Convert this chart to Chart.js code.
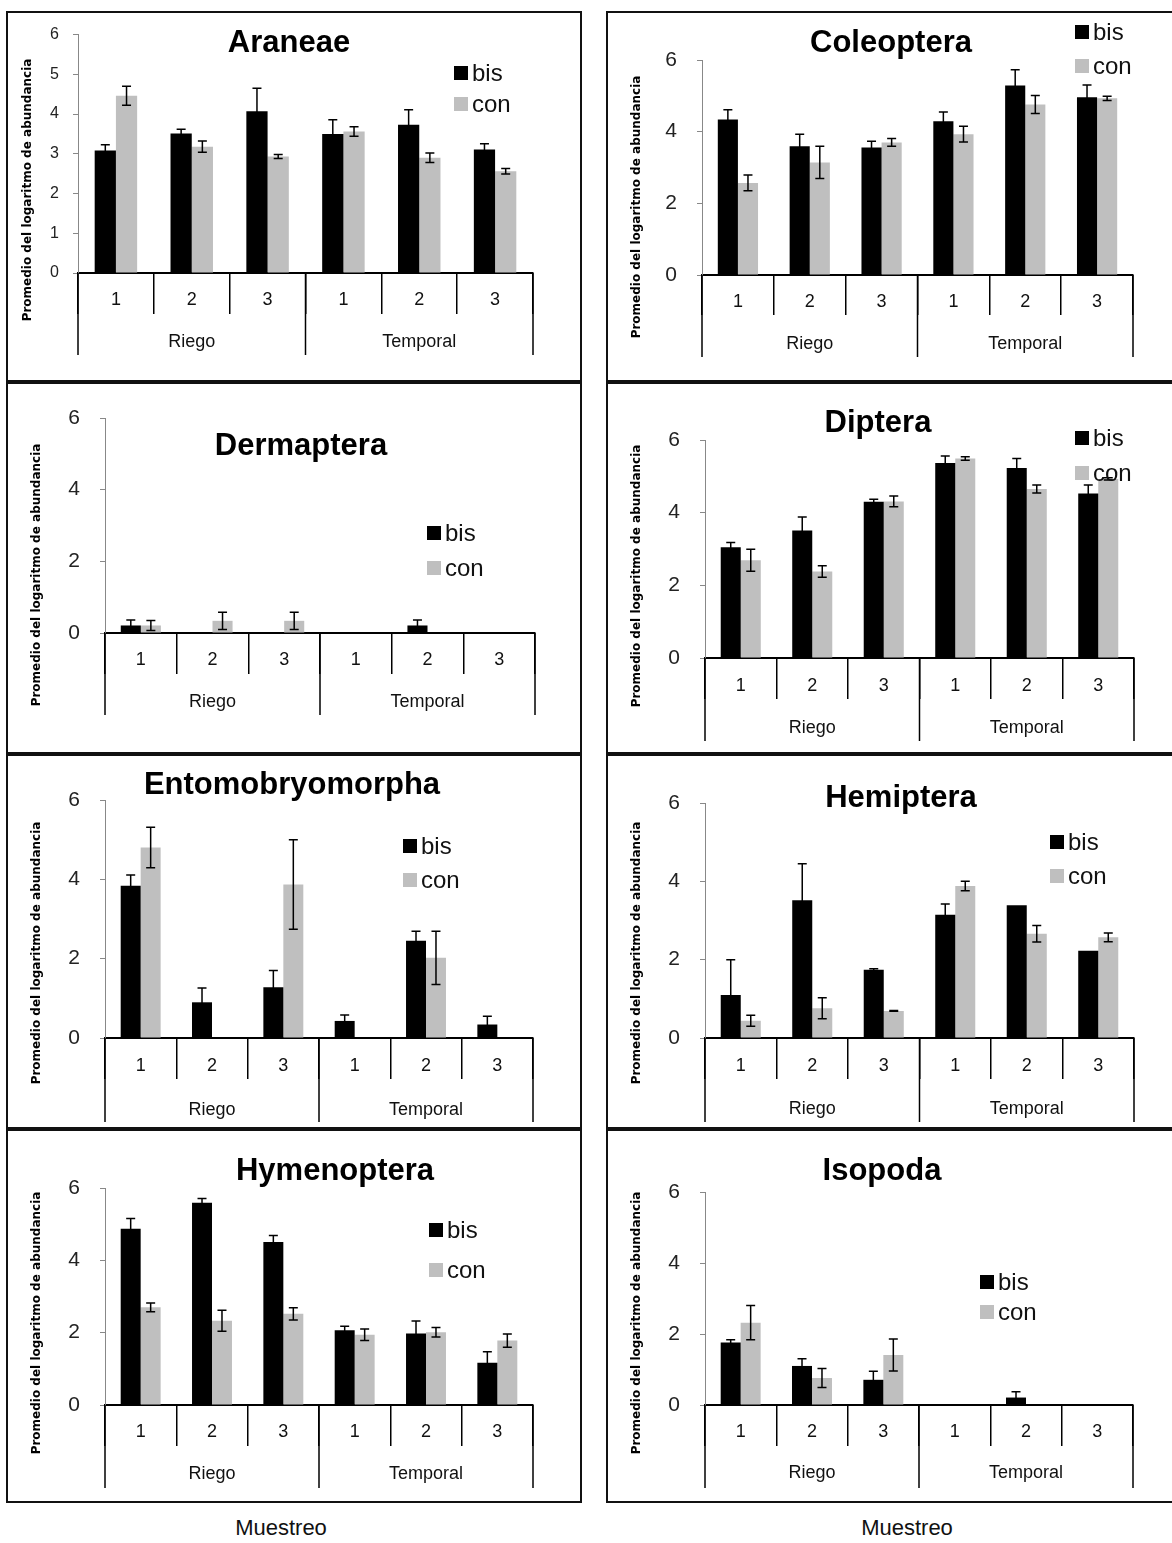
<!DOCTYPE html>
<html>
<head>
<meta charset="utf-8">
<script src="https://cdn.jsdelivr.net/npm/chart.js@4.4.1/dist/chart.umd.min.js"></script>
<style>
    html, body { margin: 0; padding: 0; background: #fff; }
    body { width: 1172px; height: 1543px; position: relative; overflow: hidden; }
    .panel { position: absolute; box-sizing: border-box; border: 2px solid #111; }
    canvas { position: absolute; }
    .axis-name {
        position: absolute;
        font: 22px 'Liberation Sans', Arial, sans-serif;
        color: #111;
        transform: translate(-50%, -50%);
        white-space: nowrap;
    }
</style>
</head>
<body>
<div class="axis-name" style="left:281px; top:1528px;">Muestreo</div>
<div class="axis-name" style="left:907px; top:1528px;">Muestreo</div>
<script>
// x axis: sample number inside each regime
const samples = ['1', '2', '3', '1', '2', '3'];
const groups = ['Riego', 'Temporal'];
const treatments = ['bis', 'con'];
const yTitle = 'Promedio del logaritmo de abundancia';

// mean log abundance and error, per order
const araneaeBis = [3.08, 3.51, 4.07, 3.50, 3.73, 3.11];
const araneaeBisErr = [0.15, 0.11, 0.58, 0.36, 0.38, 0.14];
const araneaeCon = [4.46, 3.18, 2.93, 3.56, 2.90, 2.56];
const araneaeConErr = [0.24, 0.14, 0.05, 0.12, 0.12, 0.07];

const coleopteraBis = [4.34, 3.59, 3.56, 4.29, 5.29, 4.96];
const coleopteraBisErr = [0.27, 0.34, 0.17, 0.26, 0.44, 0.34];
const coleopteraCon = [2.57, 3.14, 3.70, 3.93, 4.76, 4.93];
const coleopteraConErr = [0.22, 0.45, 0.11, 0.22, 0.25, 0.06];

const dermapteraBis = [0.21, 0, 0, 0, 0.21, 0];
const dermapteraBisErr = [0.15, 0, 0, 0, 0.15, 0];
const dermapteraCon = [0.21, 0.34, 0.34, 0, 0, 0];
const dermapteraConErr = [0.14, 0.24, 0.24, 0, 0, 0];

const dipteraBis = [3.05, 3.51, 4.30, 5.37, 5.23, 4.53];
const dipteraBisErr = [0.13, 0.37, 0.07, 0.19, 0.26, 0.23];
const dipteraCon = [2.69, 2.38, 4.31, 5.49, 4.65, 4.93];
const dipteraConErr = [0.30, 0.16, 0.15, 0.05, 0.11, 0.03];

const entomoBis = [3.84, 0.90, 1.28, 0.43, 2.45, 0.34];
const entomoBisErr = [0.27, 0.36, 0.42, 0.15, 0.24, 0.21];
const entomoCon = [4.80, 0, 3.87, 0, 2.02, 0];
const entomoConErr = [0.51, 0, 1.13, 0, 0.67, 0];

const hemipteraBis = [1.10, 3.52, 1.74, 3.15, 3.39, 2.23];
const hemipteraBisErr = [0.90, 0.93, 0.03, 0.27, 0, 0];
const hemipteraCon = [0.44, 0.76, 0.69, 3.88, 2.66, 2.57];
const hemipteraConErr = [0.14, 0.27, 0.01, 0.12, 0.21, 0.11];

const hymenopteraBis = [4.87, 5.59, 4.51, 2.07, 1.98, 1.17];
const hymenopteraBisErr = [0.29, 0.12, 0.18, 0.11, 0.34, 0.30];
const hymenopteraCon = [2.70, 2.33, 2.52, 1.94, 2.01, 1.78];
const hymenopteraConErr = [0.12, 0.29, 0.17, 0.16, 0.13, 0.18];

const isopodaBis = [1.76, 1.10, 0.71, 0, 0.21, 0];
const isopodaBisErr = [0.08, 0.20, 0.24, 0, 0.16, 0];
const isopodaCon = [2.32, 0.76, 1.41, 0, 0, 0];
const isopodaConErr = [0.48, 0.27, 0.45, 0, 0, 0];

const FONT = "'Liberation Sans', Arial, sans-serif";
const BIS_COLOR = '#000000';
const CON_COLOR = '#bfbfbf';

// page positions of every panel (box = left, top, right, bottom)
const panels = [
    { title: 'Araneae', bis: araneaeBis, bisErr: araneaeBisErr, con: araneaeCon, conErr: araneaeConErr,
      box: [6, 11, 582, 382], axisX: 78, axisEnd: 533, y0: 273, y6: 33, step: 1, tickSize: 16, tickPad: 14,
      titlePos: [289, 43], legend: [454, 73, 104], yTitlePos: [28, 190], catY: 300, groupY: 342, sepBottom: 314, groupBottom: 355 },
    { title: 'Coleoptera', bis: coleopteraBis, bisErr: coleopteraBisErr, con: coleopteraCon, conErr: coleopteraConErr,
      box: [606, 11, 1180, 382], axisX: 702, axisEnd: 1133, y0: 275, y6: 60, step: 2, tickSize: 21, tickPad: 20,
      titlePos: [891, 43], legend: [1075, 32, 66], yTitlePos: [637, 207], catY: 302, groupY: 344, sepBottom: 315, groupBottom: 357 },
    { title: 'Dermaptera', bis: dermapteraBis, bisErr: dermapteraBisErr, con: dermapteraCon, conErr: dermapteraConErr,
      box: [6, 382, 582, 754], axisX: 105, axisEnd: 535, y0: 633, y6: 418, step: 2, tickSize: 21, tickPad: 20,
      titlePos: [301, 446], legend: [427, 533, 568], yTitlePos: [37, 575], catY: 660, groupY: 702, sepBottom: 674, groupBottom: 715 },
    { title: 'Diptera', bis: dipteraBis, bisErr: dipteraBisErr, con: dipteraCon, conErr: dipteraConErr,
      box: [606, 382, 1180, 754], axisX: 705, axisEnd: 1134, y0: 658, y6: 440, step: 2, tickSize: 21, tickPad: 20,
      titlePos: [878, 423], legend: [1075, 438, 473], yTitlePos: [637, 576], catY: 686, groupY: 728, sepBottom: 699, groupBottom: 741 },
    { title: 'Entomobryomorpha', bis: entomoBis, bisErr: entomoBisErr, con: entomoCon, conErr: entomoConErr,
      box: [6, 754, 582, 1129], axisX: 105, axisEnd: 533, y0: 1038, y6: 800, step: 2, tickSize: 21, tickPad: 20,
      titlePos: [292, 785], legend: [403, 846, 880], yTitlePos: [37, 953], catY: 1066, groupY: 1110, sepBottom: 1079, groupBottom: 1122 },
    { title: 'Hemiptera', bis: hemipteraBis, bisErr: hemipteraBisErr, con: hemipteraCon, conErr: hemipteraConErr,
      box: [606, 754, 1180, 1129], axisX: 705, axisEnd: 1134, y0: 1038, y6: 803, step: 2, tickSize: 21, tickPad: 20,
      titlePos: [901, 798], legend: [1050, 842, 876], yTitlePos: [637, 953], catY: 1066, groupY: 1109, sepBottom: 1079, groupBottom: 1122 },
    { title: 'Hymenoptera', bis: hymenopteraBis, bisErr: hymenopteraBisErr, con: hymenopteraCon, conErr: hymenopteraConErr,
      box: [6, 1129, 582, 1503], axisX: 105, axisEnd: 533, y0: 1405, y6: 1188, step: 2, tickSize: 21, tickPad: 20,
      titlePos: [335, 1171], legend: [429, 1230, 1270], yTitlePos: [37, 1323], catY: 1432, groupY: 1474, sepBottom: 1446, groupBottom: 1488 },
    { title: 'Isopoda', bis: isopodaBis, bisErr: isopodaBisErr, con: isopodaCon, conErr: isopodaConErr,
      box: [606, 1129, 1180, 1503], axisX: 705, axisEnd: 1133, y0: 1405, y6: 1192, step: 2, tickSize: 21, tickPad: 20,
      titlePos: [882, 1171], legend: [980, 1282, 1312], yTitlePos: [637, 1323], catY: 1432, groupY: 1473, sepBottom: 1446, groupBottom: 1488 },
];

// error bars (symmetric, black) on top of the bars
const errorBars = {
    id: 'errorBars',
    afterDatasetsDraw(chart) {
        const { ctx } = chart;
        const yScale = chart.scales.y;
        ctx.save();
        ctx.strokeStyle = '#000';
        ctx.lineWidth = 1.5;
        chart.data.datasets.forEach((ds, i) => {
            const meta = chart.getDatasetMeta(i);
            meta.data.forEach((bar, j) => {
                const err = ds.errors[j];
                if (!err) return;
                const top = yScale.getPixelForValue(ds.data[j] + err);
                const bottom = yScale.getPixelForValue(ds.data[j] - err);
                ctx.beginPath();
                ctx.moveTo(bar.x, top);
                ctx.lineTo(bar.x, bottom);
                ctx.moveTo(bar.x - 4.5, top);
                ctx.lineTo(bar.x + 4.5, top);
                ctx.moveTo(bar.x - 4.5, bottom);
                ctx.lineTo(bar.x + 4.5, bottom);
                ctx.stroke();
            });
        });
        ctx.restore();
    }
};

function makeDecor(p) {
    const bx = p.box[0], by = p.box[1];
    return {
        id: 'decor',
        afterDraw(chart) {
            const { ctx } = chart;
            const x = chart.scales.x;
            const axisY = x.top;
            ctx.save();

            // regime group lines and labels under the sample ticks
            ctx.strokeStyle = '#000';
            ctx.lineWidth = 1.5;
            [-0.5, 2.5, 5.5].forEach(v => {
                const px = x.getPixelForValue(v);
                ctx.beginPath();
                ctx.moveTo(px, axisY);
                ctx.lineTo(px, p.groupBottom - by);
                ctx.stroke();
            });
            ctx.fillStyle = '#111';
            ctx.font = '18px ' + FONT;
            ctx.textAlign = 'center';
            ctx.textBaseline = 'middle';
            groups.forEach((g, k) => {
                ctx.fillText(g, x.getPixelForValue(1 + k * 3), p.groupY - by);
            });

            // title
            ctx.fillStyle = '#000';
            ctx.font = 'bold 31px ' + FONT;
            ctx.fillText(p.title, p.titlePos[0] - bx, p.titlePos[1] - by);

            // legend
            ctx.textAlign = 'left';
            ctx.font = '24px ' + FONT;
            chart.data.datasets.forEach((ds, i) => {
                const ly = p.legend[1 + i] - by;
                const lx = p.legend[0] - bx;
                ctx.fillStyle = ds.backgroundColor;
                ctx.fillRect(lx, ly - 7, 14, 14);
                ctx.fillStyle = '#111';
                ctx.fillText(ds.label, lx + 18, ly + 1);
            });

            // y axis title
            ctx.translate(p.yTitlePos[0] - bx, p.yTitlePos[1] - by);
            ctx.rotate(-Math.PI / 2);
            ctx.textAlign = 'center';
            ctx.font = 'bold 12px "DejaVu Sans", sans-serif';
            ctx.fillStyle = '#000';
            ctx.fillText(yTitle, 0, 0);
            ctx.restore();
        }
    };
}

function makeChart(p) {
    const bx = p.box[0], by = p.box[1];
    const w = p.box[2] - bx, h = p.box[3] - by;
    const canvas = document.createElement('canvas');
    canvas.width = w;
    canvas.height = h;
    canvas.style.left = bx + 'px';
    canvas.style.top = by + 'px';
    canvas.style.width = w + 'px';
    canvas.style.height = h + 'px';
    document.body.appendChild(canvas);

    const frame = document.createElement('div');
    frame.className = 'panel';
    frame.style.left = bx + 'px';
    frame.style.top = by + 'px';
    frame.style.width = w + 'px';
    frame.style.height = h + 'px';
    document.body.appendChild(frame);

    const xAxisHeight = 80;
    const sepLength = p.sepBottom - p.y0;

    return new Chart(canvas.getContext('2d'), {
        type: 'bar',
        data: {
            labels: samples,
            datasets: [
                { label: treatments[0], data: p.bis, errors: p.bisErr, backgroundColor: BIS_COLOR },
                { label: treatments[1], data: p.con, errors: p.conErr, backgroundColor: CON_COLOR },
            ]
        },
        options: {
            responsive: false,
            animation: false,
            devicePixelRatio: 1,
            layout: {
                padding: {
                    left: 0,
                    top: p.y6 - by,
                    right: w - (p.axisEnd - bx),
                    bottom: h - (p.y0 - by) - xAxisHeight
                }
            },
            datasets: { bar: { barPercentage: 1, categoryPercentage: 0.56 } },
            plugins: { legend: { display: false }, tooltip: { enabled: false }, title: { display: false } },
            scales: {
                x: {
                    grid: { display: true, drawOnChartArea: false, drawTicks: true, tickLength: sepLength, color: '#000', lineWidth: 1.5, offset: true },
                    border: { display: true, color: '#000', width: 2 },
                    ticks: { font: { family: FONT, size: 18 }, color: '#111', maxRotation: 0, padding: (p.catY - p.y0) - sepLength - 10.8 },
                    afterFit(s) { s.height = xAxisHeight; }
                },
                y: {
                    min: 0,
                    max: 6,
                    ticks: { stepSize: p.step, font: { family: FONT, size: p.tickSize }, color: '#222', padding: p.tickPad },
                    grid: { drawOnChartArea: false, drawTicks: true, tickLength: 5, color: '#888' },
                    border: { display: true, color: '#888', width: 1 },
                    afterFit(s) { s.width = p.axisX - bx; }
                }
            }
        },
        plugins: [errorBars, makeDecor(p)]
    });
}

const charts = panels.map(makeChart);
</script>
</body>
</html>
